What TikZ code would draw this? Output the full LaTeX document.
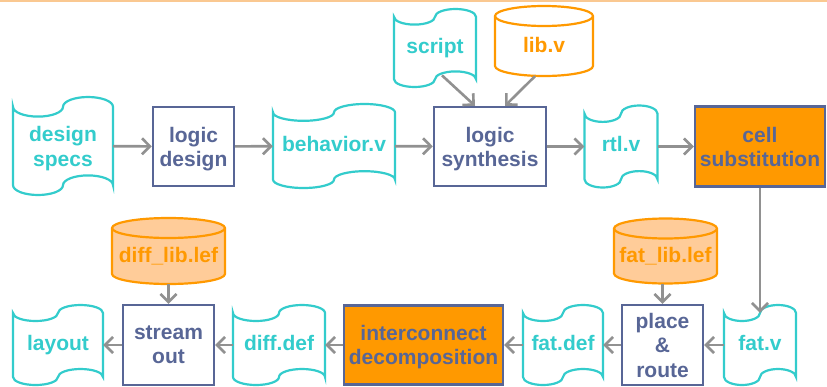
\documentclass[tikz,border=0pt]{standalone}
\usepackage{fontspec}
\setmainfont{Liberation Sans}
\usetikzlibrary{arrows.meta,calc}
\definecolor{cTeal}{RGB}{51,204,204}
\definecolor{cBlue}{RGB}{88,102,150}
\definecolor{cOrange}{RGB}{255,153,0}
\definecolor{cLight}{RGB}{255,204,153}
\definecolor{cArrow}{RGB}{145,145,145}
\definecolor{cTop}{RGB}{250,200,145}
\tikzset{
  x=1pt, y=1pt,
  lbl/.style={font=\bfseries\fontsize{21}{24}\selectfont, align=center, inner sep=0pt, text depth=5pt},
  multi/.style={text depth=-2pt},
  arr/.style={draw=cArrow, line width=2.6pt, -{Straight Barb[length=8pt,width=16pt]}},
  tapeline/.style={draw=cTeal, line width=2.2pt},
  tapetext/.style={lbl, text=cTeal},
  procbox/.style={lbl, draw=cBlue, line width=2.4pt, fill=white, text=cBlue},
  hotbox/.style={procbox, fill=cOrange},
  cylline/.style={draw=cOrange, line width=2.2pt},
  cyltext/.style={lbl, text=cOrange, text height=26pt, text depth=4pt}
}
% tape: name, x, y, w, h, extra style, text   (image pixel coordinates, y downwards)
\newcommand\tapenode[7]{%
  \pgfmathsetmacro\tpHW{#4/2}\pgfmathsetmacro\tpQ{#4/4}%
  \pgfmathsetmacro\tpA{#5/10}\pgfmathsetmacro\tpT{#5/2-#5/10}\pgfmathsetmacro\tpH{#5*0.8}%
  \draw[tapeline] ({#2-\tpHW},{-#3+\tpT})
     arc[start angle=180,end angle=360,x radius=\tpQ,y radius=\tpA]
     arc[start angle=180,end angle=0,x radius=\tpQ,y radius=\tpA]
     -- ({#2+\tpHW},{-#3-\tpT})
     arc[start angle=0,end angle=180,x radius=\tpQ,y radius=\tpA]
     arc[start angle=0,end angle=-180,x radius=\tpQ,y radius=\tpA]
     -- cycle;
  \node[tapetext, minimum width=#4pt, minimum height=\tpH pt, #6] (#1) at (#2,-#3) {#7};
}
% cylinder: name, x, y, w, h, fill, text
\newcommand\cylnode[7]{%
  \pgfmathsetmacro\cyHW{#4/2}\pgfmathsetmacro\cyT{#5/2-10}%
  \filldraw[cylline, fill=#6] ({#2-\cyHW},{-#3+\cyT}) -- ({#2-\cyHW},{-#3-\cyT})
     arc[start angle=180,end angle=360,x radius=\cyHW,y radius=10]
     -- ({#2+\cyHW},{-#3+\cyT})
     arc[start angle=0,end angle=180,x radius=\cyHW,y radius=10] -- cycle;
  \draw[cylline] ({#2-\cyHW},{-#3+\cyT}) arc[start angle=180,end angle=360,x radius=\cyHW,y radius=10];
  \node[cyltext, minimum width=#4pt, minimum height=#5pt] (#1) at (#2,-#3) {#7};
}
\begin{document}
\begin{tikzpicture}
\useasboundingbox (0,0) rectangle (827,-386);
\fill[white] (0,0) rectangle (827,-386);
\draw[cTop, line width=1.6pt] (0,-0.8) -- (827,-0.8);

% top row
\tapenode{specs}{63}{146}{100}{98}{text depth=-17pt, font=\bfseries\fontsize{21}{25}\selectfont}{design\\specs}
\node[procbox, multi, minimum width=81pt, minimum height=79pt] (ldesign) at (193.5,-146.5) {logic\\design};
\tapenode{behav}{334}{146}{122}{84}{}{behavior.v}
\node[procbox, multi, minimum width=112pt, minimum height=79pt] (synth) at (490,-146.5) {logic\\synthesis};
\tapenode{rtl}{621}{146.5}{73}{82}{}{rtl.v}
\node[hotbox, multi, minimum width=130pt, minimum height=80pt] (cell) at (760,-146.5) {cell\\substitution};
\tapenode{script}{435}{48}{82}{78}{}{script}
\cylnode{lib}{544}{41}{98}{70}{white}{lib.v}

% bottom row
\tapenode{layout}{58}{345}{90}{80}{}{layout}
\node[procbox, multi, minimum width=91pt, minimum height=80pt] (stream) at (168.5,-345) {stream\\out};
\cylnode{difflib}{168.5}{251}{113}{66}{cLight}{diff\_lib.lef}
\tapenode{diffdef}{279}{345}{92}{80}{}{diff.def}
\node[hotbox, multi, minimum width=159pt, minimum height=79pt] (inter) at (423.5,-345) {interconnect\\decomposition};
\tapenode{fatdef}{563}{345}{80}{80}{}{fat.def}
\node[procbox, multi, minimum width=81pt, minimum height=80pt, font=\bfseries\fontsize{21}{24.5}\selectfont] (place) at (662.5,-345) {place\\\&\\route};
\cylnode{fatlib}{665.5}{251}{103}{65}{cLight}{fat\_lib.lef}
\tapenode{fatv}{760}{345}{72}{80}{}{fat.v}

% connectors
\draw[arr] (specs) -- (ldesign);
\draw[arr] (ldesign) -- (behav);
\draw[arr] (behav) -- (synth);
\draw[arr] (synth) -- (rtl);
\draw[arr] (rtl) -- (cell);
\draw[arr] ([xshift=7pt,yshift=4pt]script.south) -- ([xshift=-15pt]synth.north);
\draw[arr] ([xshift=-9pt]lib.south) -- ([xshift=15pt]synth.north);
\draw[arr] (cell.south) -- (fatv.north);
\draw[arr] (fatv) -- (place);
\draw[arr] (fatlib.south -| place.north) -- (place.north);
\draw[arr] (place) -- (fatdef);
\draw[arr] (fatdef) -- (inter);
\draw[arr] (inter) -- (diffdef);
\draw[arr] (diffdef) -- (stream);
\draw[arr] (difflib) -- (stream);
\draw[arr] (stream) -- (layout);
\end{tikzpicture}
\end{document}
